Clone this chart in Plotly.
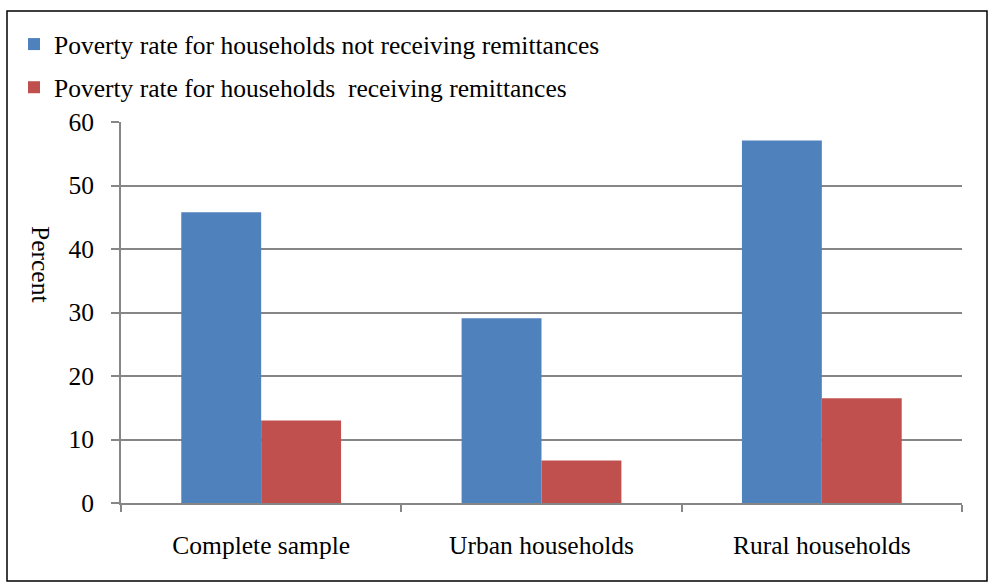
import plotly.graph_objects as go

categories = ["Complete sample", "Urban households", "Rural households"]
not_receiving = [45.8, 29.1, 57.1]
receiving = [13.0, 6.7, 16.5]
series_names = ["Poverty rate for households not receiving remittances",
                "Poverty rate for households  receiving remittances"]
y_ticks = [0, 10, 20, 30, 40, 50, 60]

W, H = 990, 586
L, R, T, B = 121, 28, 122, 83
pw, ph = W - L - R, H - T - B

FONT = "Liberation Serif, Times New Roman, serif"
FS = 25.5

fig = go.Figure()
fig.add_trace(go.Bar(x=categories, y=not_receiving, name=series_names[0],
                     marker=dict(color="#4F81BD", line=dict(width=0)),
                     legendgroup="a"))
fig.add_trace(go.Bar(x=categories, y=receiving, name=series_names[1],
                     marker=dict(color="#C0504D", line=dict(width=0)),
                     legendgroup="b"))

def px_x(px):
    return (px - L) / pw

def px_y(py):
    return 1 - (py - T) / ph

fig.update_layout(
    width=W, height=H,
    margin=dict(l=L, r=R, t=T, b=B, autoexpand=False),
    paper_bgcolor="white", plot_bgcolor="white",
    font=dict(family=FONT, size=FS, color="black"),
    barmode="group", bargap=0.43, bargroupgap=0,
    showlegend=True,
    legend=dict(xref="container", yref="container", x=14 / W, y=1 - 21 / H,
                xanchor="left", yanchor="top", traceorder="grouped",
                tracegroupgap=7, font=dict(family=FONT, size=FS),
                itemwidth=30, bgcolor="rgba(0,0,0,0)"),
    xaxis=dict(showgrid=False, showline=True, linecolor="#868686", linewidth=2,
               ticks="outside", tickson="boundaries", ticklen=7, tickwidth=2,
               tickcolor="#868686", ticklabelstandoff=18, tickangle=0,
               tickfont=dict(family=FONT, size=FS)),
    yaxis=dict(range=[0, 60], tickvals=y_ticks, showgrid=True,
               gridcolor="#868686", gridwidth=1.5, showline=True,
               linecolor="#868686", linewidth=2, ticks="outside", ticklen=8,
               tickwidth=2, tickcolor="#868686", zeroline=False,
               ticklabelstandoff=12, tickfont=dict(family=FONT, size=FS)),
    annotations=[dict(text="Percent", textangle=90, xref="paper", yref="paper",
                      x=px_x(41), y=px_y(264), showarrow=False,
                      font=dict(family=FONT, size=FS),
                      xanchor="center", yanchor="middle")],
    shapes=[dict(type="rect", xref="paper", yref="paper",
                 x0=px_x(7), x1=px_x(987), y0=px_y(11), y1=px_y(581),
                 line=dict(color="black", width=1.5), layer="below")],
)

fig.write_html("out.html", config={"displayModeBar": False},
               post_script="document.body.style.margin='0';document.body.style.overflow='hidden';")
